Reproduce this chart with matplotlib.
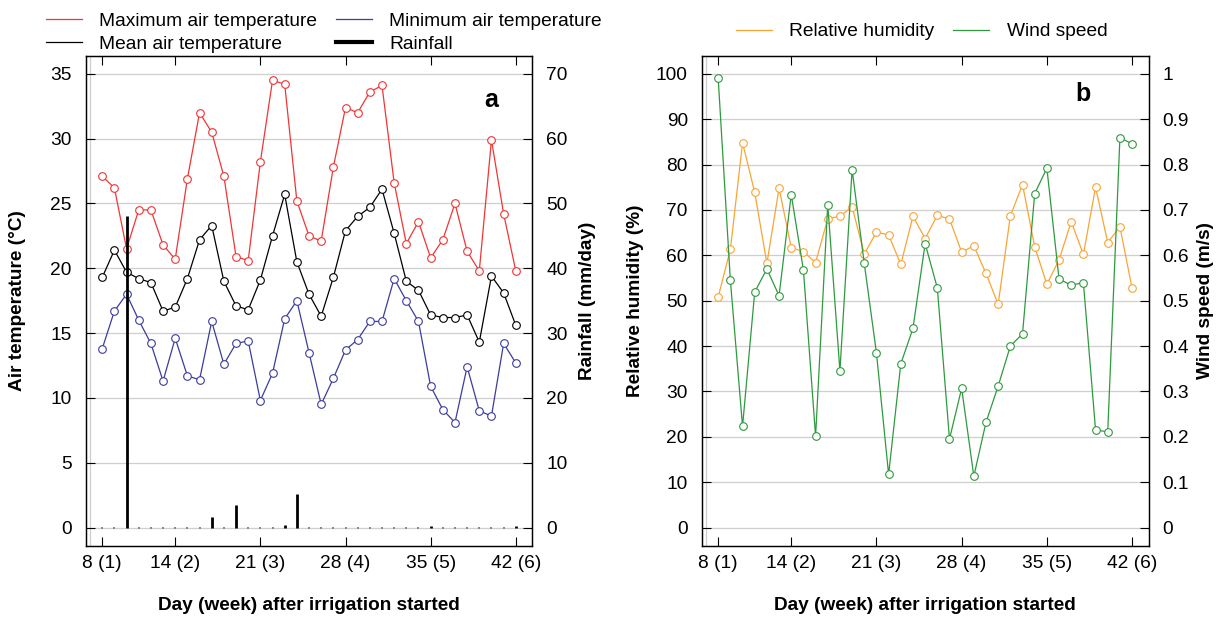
import matplotlib
matplotlib.use("Agg")
import matplotlib.pyplot as plt
import numpy as np
from matplotlib.lines import Line2D

plt.rcParams["font.family"] = ["Liberation Sans", "DejaVu Sans"]
plt.rcParams["font.size"] = 13.8

# day after irrigation started (daily, 8..42)
days = list(range(8, 43))
tick_days = [8, 14, 21, 28, 35, 42]
tick_labels = ["8 (1)", "14 (2)", "21 (3)", "28 (4)", "35 (5)", "42 (6)"]
grid_days = [7, 14, 21, 28, 35, 42]

t_max = [27.1, 26.2, 21.5, 24.5, 24.5, 21.8, 20.7, 26.9, 32.0, 30.5, 27.1, 20.9,
         20.6, 28.2, 34.5, 34.2, 25.2, 22.5, 22.1, 27.8, 32.4, 32.0, 33.6, 34.1,
         26.6, 21.9, 23.6, 20.8, 22.2, 25.0, 21.3, 19.8, 29.9, 24.2, 19.8]
t_mean = [19.3, 21.4, 19.7, 19.2, 18.9, 16.7, 17.0, 19.2, 22.2, 23.3, 19.0, 17.1,
          16.8, 19.1, 22.5, 25.7, 20.5, 18.0, 16.3, 19.3, 22.9, 24.0, 24.7, 26.1,
          22.7, 19.0, 18.3, 16.4, 16.2, 16.2, 16.4, 14.3, 19.4, 18.1, 15.6]
t_min = [13.8, 16.7, 18.0, 16.0, 14.2, 11.3, 14.6, 11.7, 11.4, 15.9, 12.6, 14.2,
         14.4, 9.8, 11.9, 16.1, 17.5, 13.5, 9.5, 11.5, 13.7, 14.5, 15.9, 15.9,
         19.2, 17.5, 15.9, 10.9, 9.1, 8.1, 12.4, 9.0, 8.6, 14.2, 12.7]
rain = [0, 0, 48.0, 0, 0, 0, 0, 0, 0, 1.65, 0, 3.45,
        0, 0, 0, 0.4, 5.25, 0, 0, 0, 0, 0, 0, 0,
        0, 0, 0, 0.2, 0, 0, 0, 0, 0, 0, 0.2]

rh = [50.8, 61.3, 84.8, 73.9, 58.2, 74.8, 61.7, 60.8, 58.4, 68.1, 68.6, 70.7,
      60.3, 65.1, 64.5, 58.0, 68.6, 63.7, 68.8, 68.0, 60.7, 62.1, 56.0, 49.2,
      68.7, 75.6, 61.9, 53.6, 59.0, 67.4, 60.2, 75.0, 62.8, 66.3, 52.7]
wind = [0.990, 0.545, 0.223, 0.519, 0.570, 0.511, 0.734, 0.568, 0.201, 0.712,
        0.345, 0.789, 0.582, 0.385, 0.117, 0.361, 0.439, 0.626, 0.528, 0.195,
        0.307, 0.113, 0.232, 0.312, 0.400, 0.427, 0.736, 0.792, 0.548, 0.534,
        0.540, 0.215, 0.211, 0.859, 0.846]

C_MAX, C_MEAN, C_MIN = "#F23434", "#000000", "#3C3C9C"
C_RH, C_WIND = "#F9A535", "#2E9A3E"
GRID = "#CFCFCF"

fig = plt.figure(figsize=(12.26, 6.18), dpi=100)
ax1 = fig.add_axes([0.0699, 0.1170, 0.3643, 0.7929])
ax1r = ax1.twinx()
ax2 = fig.add_axes([0.5723, 0.1170, 0.3646, 0.7929])
ax2r = ax2.twinx()


def style(ax, axr):
    ax.set_xlim(6.64, 43.36)
    ax.set_xticks(tick_days)
    ax.set_xticklabels(tick_labels)
    ax.set_xticks(grid_days, minor=True)
    ax.grid(which="minor", axis="x", color=GRID, lw=0.9)
    ax.grid(which="major", axis="y", color=GRID, lw=0.9)
    ax.set_axisbelow(True)
    ax.tick_params(which="minor", length=0)
    ax.tick_params(which="major", direction="in", length=6.5, width=0.8,
                   top=True, labelsize=13.8)
    ax.tick_params(axis="x", pad=7)
    ax.tick_params(axis="y", pad=10)
    axr.tick_params(direction="in", length=6.5, width=0.8, pad=10, labelsize=13.8)
    for a in (ax, axr):
        for s in a.spines.values():
            s.set_linewidth(0.9)


line_kw = dict(lw=0.9, marker="o", ms=5.5, mfc="white", mew=0.8)

# panel a
ax1.plot(days, t_max, color=C_MAX, **line_kw)
ax1.plot(days, t_mean, color=C_MEAN, **line_kw)
ax1.plot(days, t_min, color=C_MIN, **line_kw)
ax1.set_ylim(-1.4, 36.4)
ax1.set_yticks(np.arange(0, 36, 5))
rain_a = np.array(rain)
days_a = np.array(days)
ax1r.vlines(days_a[rain_a > 0], 0, rain_a[rain_a > 0], color="black", lw=2.0)
ax1r.plot(days_a[rain_a == 0], rain_a[rain_a == 0], ls="none", marker="s",
          ms=1.8, color="#8A8A8A", mew=0)
ax1r.set_ylim(-2.8, 72.8)
ax1r.set_yticks(np.arange(0, 71, 10))
style(ax1, ax1r)
ax1.text(0.9087, 0.896, "a", transform=ax1.transAxes, ha="center",
         va="baseline", fontsize=18, fontweight="bold")

# panel b
ax2.plot(days, rh, color=C_RH, **line_kw)
ax2r.plot(days, wind, color=C_WIND, **line_kw)
ax2.set_ylim(-4, 104)
ax2.set_yticks(np.arange(0, 101, 10))
ax2r.set_ylim(-0.04, 1.04)
wind_ticks = np.round(np.arange(0, 1.01, 0.1), 1)
ax2r.set_yticks(wind_ticks)
ax2r.set_yticklabels([f"{v:g}" for v in wind_ticks])
style(ax2, ax2r)
ax2.text(0.8537, 0.908, "b", transform=ax2.transAxes, ha="center",
         va="baseline", fontsize=18, fontweight="bold")

# axis labels
W, H = 1226, 618
lab_kw = dict(fontsize=13.7, fontweight="bold", ha="center", va="center")
fig.text(18 / W, 1 - 300.7 / H, "Air temperature (\u00b0C)", rotation=90, **lab_kw)
fig.text(588 / W, 1 - 300.7 / H, "Rainfall (mm/day)", rotation=90, **lab_kw)
fig.text(636 / W, 1 - 300.7 / H, "Relative humidity (%)", rotation=90, **lab_kw)
fig.text(1206 / W, 1 - 300.7 / H, "Wind speed (m/s)", rotation=90, **lab_kw)
fig.text(309 / W, 1 - 606 / H, "Day (week) after irrigation started", **lab_kw)
fig.text(925 / W, 1 - 606 / H, "Day (week) after irrigation started", **lab_kw)

# legends
h_a = [Line2D([], [], color=C_MAX, lw=0.9), Line2D([], [], color=C_MEAN, lw=0.9),
       Line2D([], [], color=C_MIN, lw=0.9), Line2D([], [], color="black", lw=3)]
l_a = ["Maximum air temperature", "Mean air temperature",
       "Minimum air temperature", "Rainfall"]
leg_kw = dict(frameon=False, fontsize=13.8, handlelength=1.88, handletextpad=0.9,
              columnspacing=1.0, labelspacing=0.26, borderpad=0, borderaxespad=0)
fig.legend(h_a, l_a, ncol=2, loc="upper left",
           bbox_to_anchor=(45.7 / W, 1 - 12.7 / H), **leg_kw)
h_b = [Line2D([], [], color=C_RH, lw=0.9), Line2D([], [], color=C_WIND, lw=0.9)]
fig.legend(h_b, ["Relative humidity", "Wind speed"], ncol=2, loc="upper left",
           bbox_to_anchor=(735.7 / W, 1 - 23 / H), **leg_kw)

fig.savefig("out.png", dpi=100)
